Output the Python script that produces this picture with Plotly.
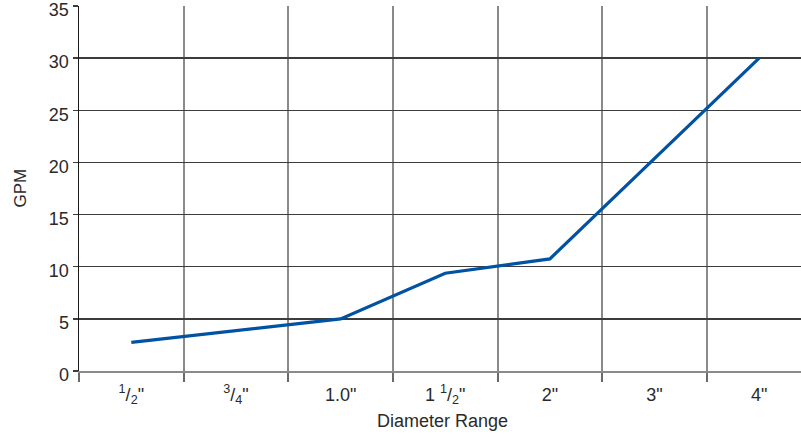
import plotly.graph_objects as go

categories = ['<sup>1</sup>/<sub>2</sub>"', '<sup>3</sup>/<sub>4</sub>"', '1.0"', '1 <sup>1</sup>/<sub>2</sub>"', '2"', '3"', '4"']
gpm = [2.75, None, 5.0, 9.37, 10.75, None, 30.0]
y_ticks = [0, 5, 10, 15, 20, 25, 30, 35]

idx = list(range(len(categories)))
bounds = [i - 0.5 for i in range(len(categories) + 1)]

fig = go.Figure()
fig.add_trace(go.Scatter(
    x=idx, y=gpm, mode="lines", connectgaps=True,
    line=dict(color="#0052a3", width=3.2),
    hoverinfo="skip", showlegend=False,
))

family = "Liberation Sans, Arial, Helvetica, sans-serif"
font = dict(family=family, size=18, color="#2a2a2a")

fig.update_layout(
    width=801, height=437,
    margin=dict(l=79, r=0, t=6, b=66, autoexpand=False),
    paper_bgcolor="white", plot_bgcolor="white",
    font=font,
    xaxis=dict(
        range=[-0.5, 6.4], tickmode="array", tickvals=idx, ticktext=categories,
        showgrid=False, zeroline=False, automargin=False,
        ticks="outside", ticklen=6, tickcolor="rgba(0,0,0,0)",
        showline=True, linecolor="#8a8a8a", linewidth=2,
        minor=dict(tickmode="array", tickvals=bounds, showgrid=True,
                   gridcolor="#8a8a8a", gridwidth=2,
                   ticks="outside", ticklen=9, tickcolor="#6a6a6a", tickwidth=2),
        tickfont=font, fixedrange=True, ticklabeloverflow="allow",
    ),
    yaxis=dict(
        range=[0, 35], tickmode="array", tickvals=y_ticks,
        showgrid=True, gridcolor="#3c3c3c", gridwidth=1.3,
        zeroline=False, showline=True, linecolor="#1a1a1a", linewidth=1.5,
        ticks="outside", ticklen=5, tickcolor="#3c3c3c", tickwidth=1.3,
        tickfont=font, fixedrange=True, automargin=False,
        ticklabeloverflow="allow", ticklabelshift=4,
    ),
    annotations=[
        dict(text="GPM", xref="paper", yref="paper", x=(20 - 79) / 722, y=0.5,
             xanchor="center", yanchor="middle", textangle=-90, showarrow=False,
             font=dict(family=family, size=17, color="#2a2a2a")),
        dict(text="Diameter Range", xref="paper", yref="paper", x=(442 - 79) / 722,
             y=(371 - 421) / 365, xanchor="center", yanchor="middle", showarrow=False,
             font=dict(family=family, size=18, color="#2a2a2a")),
    ],
)

fig.write_html("out.html", config={"displayModeBar": False, "staticPlot": True},
               post_script="document.body.style.margin='0';document.body.style.overflow='hidden';")
